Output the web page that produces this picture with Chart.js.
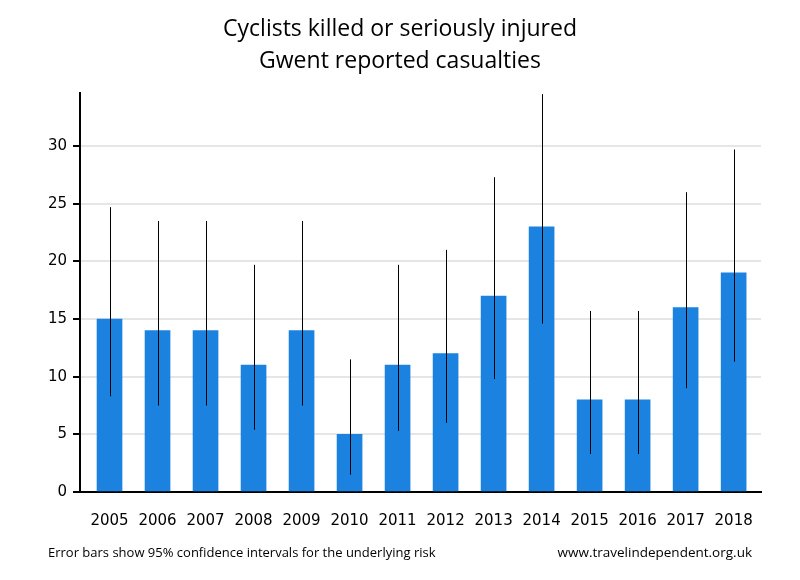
<!DOCTYPE html>
<html>
<head>
<meta charset="utf-8">
<script src="https://cdn.jsdelivr.net/npm/chart.js@4/dist/chart.umd.min.js"></script>
<style>
  html, body { margin: 0; padding: 0; background: #fff; }
  #wrap { width: 800px; height: 580px; }
</style>
</head>
<body>
<div id="wrap"><canvas id="chart" width="800" height="580"></canvas></div>
<script>
const years = ['2005', '2006', '2007', '2008', '2009', '2010', '2011', '2012', '2013', '2014', '2015', '2016', '2017', '2018'];
const casualties = [15, 14, 14, 11, 14, 5, 11, 12, 17, 23, 8, 8, 16, 19];
const lowerCI = [8.3, 7.5, 7.5, 5.4, 7.5, 1.5, 5.3, 6.0, 9.8, 14.6, 3.3, 3.3, 9.0, 11.3];
const upperCI = [24.7, 23.5, 23.5, 19.7, 23.5, 11.5, 19.7, 21.0, 27.3, 34.5, 15.7, 15.7, 26.0, 29.7];
const yTicks = [0, 5, 10, 15, 20, 25, 30];

const fontFamily = '"Segoe UI", "Open Sans", "Noto Sans", sans-serif';
const tickFont = '"DejaVu Sans", Verdana, sans-serif';

// thin black error bars, no caps
const errorBars = {
    id: 'errorBars',
    afterDatasetsDraw(chart) {
        const { ctx, scales: { x, y } } = chart;
        ctx.save();
        ctx.strokeStyle = '#000';
        ctx.lineWidth = 1;
        years.forEach((yr, i) => {
            const px = Math.round(x.getPixelForValue(i)) + 0.5;
            ctx.beginPath();
            ctx.moveTo(px, y.getPixelForValue(lowerCI[i]));
            ctx.lineTo(px, y.getPixelForValue(upperCI[i]));
            ctx.stroke();
        });
        ctx.restore();
    }
};

// title and footer texts
const texts = {
    id: 'texts',
    afterDraw(chart) {
        const ctx = chart.ctx;
        ctx.save();
        ctx.fillStyle = '#000';
        ctx.textAlign = 'center';
        ctx.textBaseline = 'middle';
        ctx.font = '23px ' + fontFamily;
        ctx.fillText('Cyclists killed or seriously injured', 400, 29);
        ctx.fillText('Gwent reported casualties', 400, 61);
        ctx.font = '13px ' + fontFamily;
        ctx.textAlign = 'left';
        ctx.fillText('Error bars show 95% confidence intervals for the underlying risk', 48, 553);
        ctx.textAlign = 'right';
        ctx.font = '13.5px ' + fontFamily;
        ctx.fillText('www.travelindependent.org.uk', 752, 553);
        ctx.restore();
    }
};

new Chart(document.getElementById('chart'), {
    type: 'bar',
    data: {
        datasets: [{
            label: 'Cyclists KSI',
            data: casualties.map((v, i) => ({ x: i, y: v })),
            backgroundColor: '#1c82e0',
            borderWidth: 0,
            barThickness: 25
        }]
    },
    options: {
        responsive: false,
        animation: false,
        layout: { padding: { top: 93, right: 39, left: 0, bottom: 0 } },
        plugins: {
            legend: { display: false },
            title: { display: false },
            tooltip: { enabled: false }
        },
        scales: {
            x: {
                type: 'linear',
                offset: false,
                min: -0.615,
                max: 13.57,
                afterBuildTicks(scale) {
                    scale.ticks = years.map((yr, i) => ({ value: i }));
                },
                afterFit(scale) { scale.height = 88; },
                grid: { display: false, drawTicks: false, offset: false },
                border: { display: true, color: '#000', width: 2 },
                ticks: {
                    autoSkip: false,
                    maxRotation: 0,
                    padding: 20,
                    color: '#000',
                    font: { size: 15, family: tickFont },
                    callback: (v) => years[v]
                }
            },
            y: {
                min: 0,
                max: 34.6,
                afterBuildTicks(scale) {
                    scale.ticks = yTicks.map(v => ({ value: v }));
                },
                afterFit(scale) { scale.width = 80; },
                grid: {
                    color: '#e6e6e6',
                    lineWidth: 2,
                    tickColor: '#000',
                    tickLength: 7,
                    tickWidth: 2
                },
                border: { display: true, color: '#000', width: 2 },
                ticks: {
                    padding: 6,
                    color: '#000',
                    font: { size: 15, family: tickFont }
                }
            }
        }
    },
    plugins: [errorBars, texts]
});
</script>
</body>
</html>
